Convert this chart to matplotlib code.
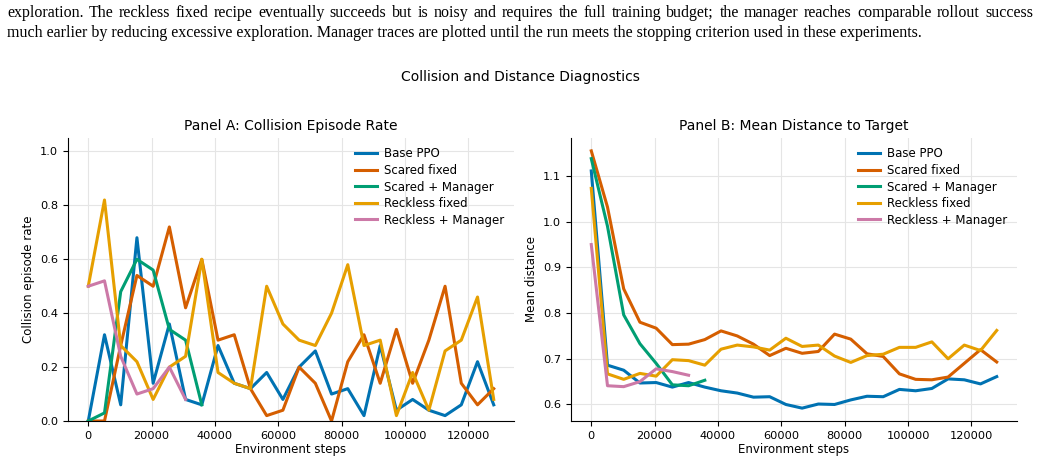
import numpy as np
import matplotlib
matplotlib.use("Agg")
import matplotlib.pyplot as plt

# environment steps at each evaluation
steps = np.arange(26) * 5120

labels = ["Base PPO", "Scared fixed", "Scared + Manager", "Reckless fixed", "Reckless + Manager"]
colors = ["#0072B2", "#D55E00", "#009E73", "#E69F00", "#CC79A7"]

# Panel A: collision episode rate
coll_base = [0.00, 0.32, 0.06, 0.68, 0.14, 0.36, 0.08, 0.06, 0.28, 0.14, 0.12, 0.18, 0.08,
             0.20, 0.26, 0.10, 0.12, 0.02, 0.28, 0.04, 0.08, 0.04, 0.02, 0.06, 0.22, 0.06]
coll_scared = [0.00, 0.00, 0.28, 0.54, 0.50, 0.72, 0.42, 0.60, 0.30, 0.32, 0.12, 0.02, 0.04,
               0.20, 0.14, 0.00, 0.22, 0.32, 0.14, 0.34, 0.14, 0.30, 0.50, 0.14, 0.06, 0.12]
coll_scared_mgr = [0.00, 0.03, 0.48, 0.60, 0.56, 0.34, 0.30, 0.06]
coll_reckless = [0.50, 0.82, 0.28, 0.22, 0.08, 0.20, 0.24, 0.60, 0.18, 0.14, 0.12, 0.50, 0.36,
                 0.30, 0.28, 0.40, 0.58, 0.28, 0.30, 0.02, 0.18, 0.04, 0.26, 0.30, 0.46, 0.08]
coll_reckless_mgr = [0.50, 0.52, 0.24, 0.10, 0.12, 0.20, 0.08]

# Panel B: mean distance to target
dist_base = [1.111, 0.686, 0.675, 0.647, 0.648, 0.638, 0.648, 0.638, 0.630, 0.625, 0.616, 0.617, 0.600,
             0.592, 0.601, 0.600, 0.610, 0.618, 0.617, 0.633, 0.630, 0.635, 0.656, 0.654, 0.645, 0.661]
dist_scared = [1.155, 1.032, 0.853, 0.780, 0.767, 0.731, 0.732, 0.742, 0.761, 0.750, 0.732, 0.707, 0.723,
               0.712, 0.716, 0.754, 0.743, 0.711, 0.705, 0.667, 0.655, 0.654, 0.660, 0.690, 0.720, 0.693]
dist_scared_mgr = [1.138, 0.990, 0.796, 0.733, 0.690, 0.643, 0.641, 0.653]
dist_reckless = [1.073, 0.667, 0.655, 0.668, 0.662, 0.698, 0.696, 0.686, 0.721, 0.730, 0.726, 0.719, 0.745,
                 0.727, 0.730, 0.706, 0.692, 0.707, 0.710, 0.725, 0.725, 0.737, 0.700, 0.730, 0.718, 0.762]
dist_reckless_mgr = [0.950, 0.641, 0.639, 0.650, 0.678, 0.672, 0.664]

caption = [
    "exploration. The reckless fixed recipe eventually succeeds but is noisy and requires the full training budget; "
    "the manager reaches comparable rollout success",
    "much earlier by reducing excessive exploration. Manager traces are plotted until the run meets the stopping "
    "criterion used in these experiments.",
]

W, H = 1041, 463
fig = plt.figure(figsize=(W / 100, H / 100), dpi=100)
renderer = fig.canvas.get_renderer()


def justified_line(text, y, x0, x1, **kw):
    # place words one by one so the line fills x0..x1 (like a justified paragraph)
    words = text.split()
    objs = [fig.text(0, y, w, ha="left", va="center", **kw) for w in words]
    widths = [o.get_window_extent(renderer).width for o in objs]
    gap = (x1 - x0 - sum(widths)) / (len(words) - 1)
    x = x0
    for o, w in zip(objs, widths):
        o.set_x(x / W)
        x += w + gap


cap_kw = dict(family="Liberation Serif", fontsize=11.5)
justified_line(caption[0], 1 - 13 / H, 7, 1033, **cap_kw)
fig.text(7 / W, 1 - 33 / H, caption[1], ha="left", va="center", **cap_kw)

fig.text(0.5, 1 - 77 / H, "Collision and Distance Diagnostics", ha="center", va="center", fontsize=10)

axA = fig.add_axes([68 / W, 1 - 421 / H, (514 - 68) / W, (421 - 138) / H])
axB = fig.add_axes([571 / W, 1 - 421 / H, (1017 - 571) / W, (421 - 138) / H])

seriesA = [coll_base, coll_scared, coll_scared_mgr, coll_reckless, coll_reckless_mgr]
seriesB = [dist_base, dist_scared, dist_scared_mgr, dist_reckless, dist_reckless_mgr]

for ax, series in [(axA, seriesA), (axB, seriesB)]:
    for lab, col, ys in zip(labels, colors, series):
        ax.plot(steps[:len(ys)], ys, color=col, lw=2.2, label=lab)
    ax.grid(True, color="#e5e5e5", lw=0.8)
    ax.set_axisbelow(True)
    for s in ["top", "right"]:
        ax.spines[s].set_visible(False)
    ax.tick_params(labelsize=8.2)
    ax.set_xlabel("Environment steps", fontsize=8.5, labelpad=2)
    ax.legend(loc="upper right", frameon=False, fontsize=8.5, handlelength=1.9,
              handletextpad=0.6, labelspacing=0.3, borderaxespad=0.4)

axA.set_ylim(0, 1.05)
axA.set_title("Panel A: Collision Episode Rate", fontsize=10)
axA.set_ylabel("Collision episode rate", fontsize=8.5)
axB.set_title("Panel B: Mean Distance to Target", fontsize=10)
axB.set_ylabel("Mean distance", fontsize=8.5)

fig.savefig("out.png", dpi=100)
